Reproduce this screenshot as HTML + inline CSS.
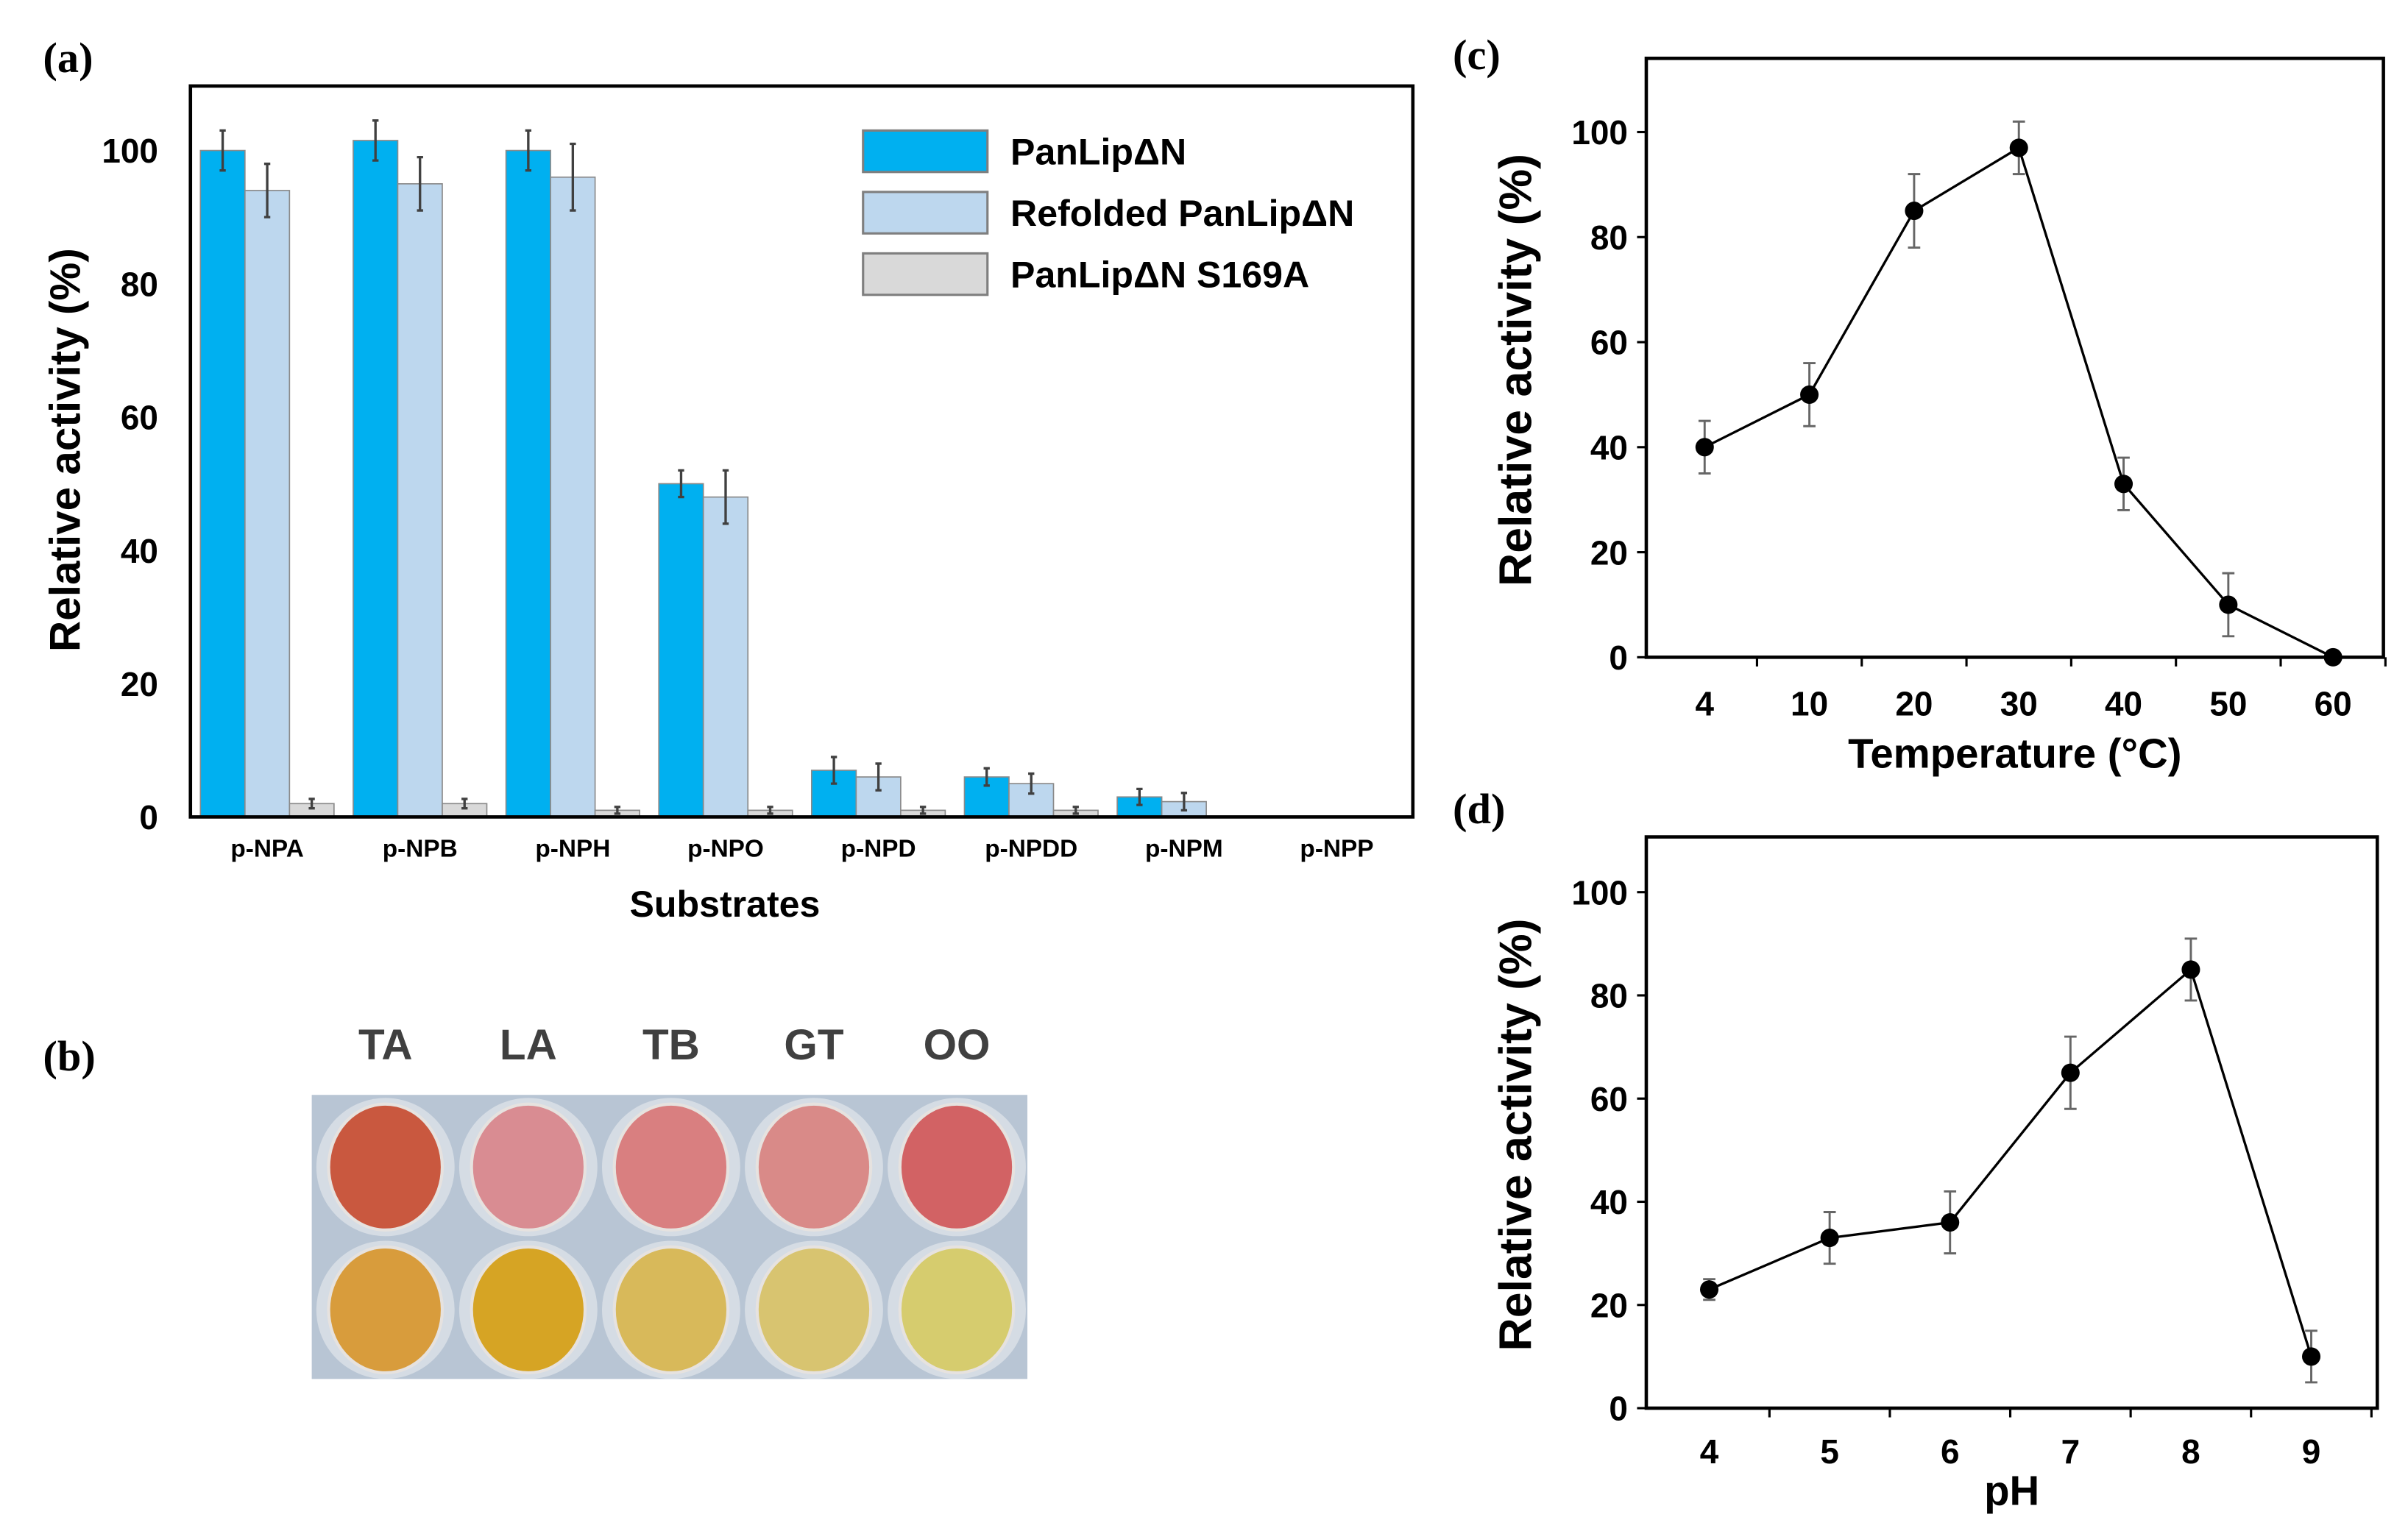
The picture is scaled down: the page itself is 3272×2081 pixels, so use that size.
<!DOCTYPE html>
<html><head><meta charset="utf-8"><style>
html,body{margin:0;padding:0;background:#fff;}
svg{display:block;}
text{font-family:"Liberation Sans",Arial,sans-serif;font-weight:bold;}
.lab{font-family:"Liberation Serif",serif;font-weight:bold;font-size:28px;}
</style></head><body>
<svg id="fig" width="3272" height="2081" viewBox="0 0 1568 997" preserveAspectRatio="none" xmlns="http://www.w3.org/2000/svg">
<rect width="1568" height="997" fill="#fff"/>
<text class="lab" x="28" y="47">(a)</text>
<text class="lab" x="28" y="697">(b)</text>
<text class="lab" x="946" y="45">(c)</text>
<text class="lab" x="946" y="536">(d)</text>
<g id="ga"></g>
<g id="gb"></g>
<g id="gc"></g>
<g id="gd"></g>
</svg>
<script>
const substrates=["p-NPA","p-NPB","p-NPH","p-NPO","p-NPD","p-NPDD","p-NPM","p-NPP"];
const panLip=[100,101.5,100,50,7,6,3,0];
const panLipErr=[3,3,3,2,2,1.3,1.2,0];
const refolded=[94,95,96,48,6,5,2.3,0];
const refoldedErr=[4,4,5,4,2,1.5,1.3,0];
const mutant=[2,2,1,1,1,1,0,0];
const mutantErr=[0.7,0.7,0.5,0.5,0.5,0.5,0,0];
const barTicks=[0,20,40,60,80,100];
const tempCats=["4","10","20","30","40","50","60"];
const tempVals=[40,50,85,97,33,10,0];
const tempErr=[5,6,7,5,5,6,0];
const phCats=["4","5","6","7","8","9"];
const phVals=[23,33,36,65,85,10];
const phErr=[2,5,6,7,6,5];
const lineTicks=[0,20,40,60,80,100];
const wellLabels=["TA","LA","TB","GT","OO"];
const wellTop=["#c9583f","#d98c92","#d97f80","#d98a88","#d26264"];
const wellBot=["#d89c3c","#d6a424","#d8b95a","#d8c470","#d6cc6e"];

const NS="http://www.w3.org/2000/svg";
function mk(p,tag,attrs,txt){const e=document.createElementNS(NS,tag);for(const k in attrs)e.setAttribute(k,attrs[k]);if(txt!==undefined)e.textContent=txt;p.appendChild(e);return e;}

// Panel a
(function(){
const g=document.getElementById('ga');
const L=124,R=920,T=56,B=532;
const y=v=>B-v*4.34;
const cx=i=>174+i*99.5;
const bw=29;
barTicks.forEach(t=>{const e=mk(g,'text',{x:103,y:y(t)+8,'text-anchor':'end','font-size':22},t);
});
const series=[[panLip,panLipErr,'#00b0f0',-1],[refolded,refoldedErr,'#bdd7ee',0],[mutant,mutantErr,'#d9d9d9',1]];
substrates.forEach((s,i)=>{
 series.forEach(([vals,errs,col,off],k)=>{
  const x=cx(i)+off*bw-bw/2;const v=vals[i];
  if(v>0){const r=mk(g,'rect',{x:x,y:y(v),width:bw,height:B-y(v),fill:col,stroke:'#8a8a8a','stroke-width':0.8});
  }
  if(errs[i]>0){const xc=x+bw/2;
   const e=mk(g,'path',{d:`M${xc},${y(v+errs[i])}V${y(v-errs[i])}M${xc-2},${y(v+errs[i])}h4M${xc-2},${y(v-errs[i])}h4`,stroke:'#404040','stroke-width':1.6,fill:'none'});
   }
 });
 const t=mk(g,'text',{x:cx(i),y:558,'text-anchor':'middle','font-size':16},s);
 
});
const f=mk(g,'rect',{x:L,y:T,width:R-L,height:B-T,fill:'none',stroke:'#000','stroke-width':2.2});

const yt=mk(g,'text',{x:0,y:0,transform:'translate(52,293) rotate(-90)','text-anchor':'middle','font-size':28},'Relative activity (%)');

const xt=mk(g,'text',{x:472,y:597,'text-anchor':'middle','font-size':24},'Substrates');

const leg=[['PanLipΔN','#00b0f0'],['Refolded PanLipΔN','#bdd7ee'],['PanLipΔN S169A','#d9d9d9']];
leg.forEach(([n,c],k)=>{const yy=85+k*40;
 const r=mk(g,'rect',{x:562,y:yy,width:81,height:27,fill:c,stroke:'#7f7f7f','stroke-width':1.5});
 
 const t=mk(g,'text',{x:658,y:yy+22,'font-size':24},n);
 });
})();

// Panel b
(function(){
const g=document.getElementById('gb');
const r=mk(g,'rect',{x:203,y:713,width:466,height:185,fill:'#b8c5d4'});

wellLabels.forEach((n,i)=>{const cx=251+i*93;
 const t=mk(g,'text',{x:cx,y:690,'text-anchor':'middle','font-size':28,fill:'#404040'},n);
 
 [[760,wellTop[i]],[853,wellBot[i]]].forEach(([cy,c])=>{
  const o=mk(g,'ellipse',{cx:cx,cy:cy,rx:45,ry:45,fill:'#d5dce4'});
  
  const w=mk(g,'ellipse',{cx:cx,cy:cy,rx:37,ry:41,fill:c,stroke:'#e6e2df','stroke-width':2});
  });
});
})();

// line charts
function lineChart(id,L,R,T,B,y100,cats,x0,dx,vals,errs,xtitle,xtitleY,tickY){
const g=document.getElementById(id);
const s=(B-y100)/100;const y=v=>B-v*s;const x=i=>x0+i*dx;
lineTicks.forEach(t=>{const e=mk(g,'text',{x:L-12,y:y(t)+8,'text-anchor':'end','font-size':22},t);
 
 mk(g,'line',{x1:L-6,x2:L,y1:y(t),y2:y(t),stroke:'#000','stroke-width':1.5});});
cats.forEach((c,i)=>{const e=mk(g,'text',{x:x(i),y:tickY,'text-anchor':'middle','font-size':22},c);
 
 mk(g,'line',{x1:x(i)+dx/2,x2:x(i)+dx/2,y1:B,y2:B+6,stroke:'#000','stroke-width':1.5});});
const f=mk(g,'rect',{x:L,y:T,width:R-L,height:B-T,fill:'none',stroke:'#000','stroke-width':2.2});

const p=mk(g,'polyline',{points:vals.map((v,i)=>x(i)+','+y(v)).join(' '),fill:'none',stroke:'#000','stroke-width':1.6});

vals.forEach((v,i)=>{
 if(errs[i]>0){const e=mk(g,'path',{d:`M${x(i)},${y(v+errs[i])}V${y(v-errs[i])}M${x(i)-4},${y(v+errs[i])}h8M${x(i)-4},${y(v-errs[i])}h8`,stroke:'#666','stroke-width':1.4,fill:'none'});
 }
 const c=mk(g,'circle',{cx:x(i),cy:y(v),r:6,fill:'#000'});
 });
const yt=mk(g,'text',{x:0,y:0,transform:`translate(997,${(T+B)/2+8}) rotate(-90)`,'text-anchor':'middle','font-size':30},'Relative activity  (%)');

const xt=mk(g,'text',{x:(L+R)/2,y:xtitleY,'text-anchor':'middle','font-size':27},xtitle);

}
lineChart('gc',1072,1552,38,428,86,tempCats,1110,68.2,tempVals,tempErr,'Temperature (°C)',500,466);
lineChart('gd',1072,1548,545,917,581,phCats,1113,78.4,phVals,phErr,'pH',980,953);
</script>
</body></html>
